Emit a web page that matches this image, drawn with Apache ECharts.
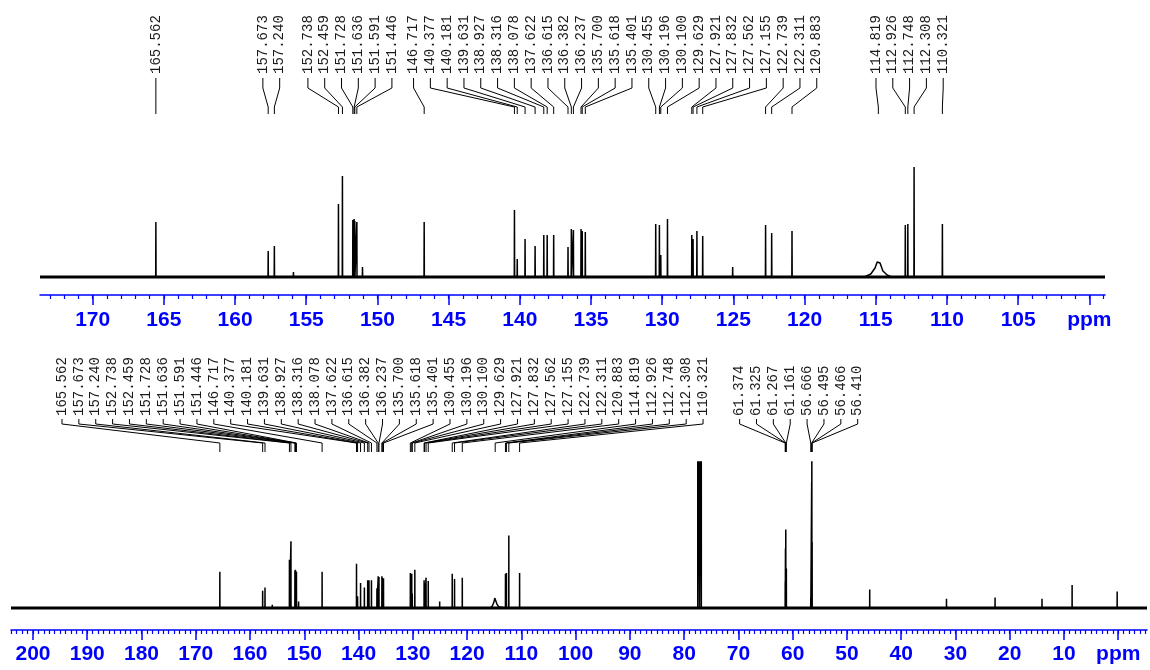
<!DOCTYPE html>
<html><head><meta charset="utf-8">
<script src="https://cdn.jsdelivr.net/npm/echarts@6/dist/echarts.min.js"></script>
<style>html,body{margin:0;padding:0;background:#fff}#c{width:1150px;height:670px}</style>
</head><body><div id="c"></div>
<script>
// ---- data (ppm, intensity in arbitrary units) ----
const peakPpm = [165.562,157.673,157.240,152.738,152.459,151.728,151.636,151.591,151.446,146.717,
  140.377,140.181,139.631,138.927,138.316,138.078,137.622,136.615,136.382,136.237,135.700,135.618,135.401,
  130.455,130.196,130.100,129.629,127.921,127.832,127.562,127.155,122.739,122.311,120.883,
  112.926,112.748,112.308,110.321,
  61.374,61.325,61.267,61.161,56.666,56.495,56.466,56.410,
  77.480,77.160,76.840,45.80,31.65,22.70,14.05,8.50,0.20,155.90,151.05,125.05];
const peakInt = [55,26,31,73,101,57,58,56,55,55,
  67,18,38,31,42,42,42,30,48,47,48,46,45,
  53,52,22,58,42,38,46,41,52,44,46,
  52,53,110,53,
  40,90,119,60,15,191,320,100,
  400,400,400,28,14,16,14,35,25,5,10,10];
// broad signal around 114.8 ppm read as points
const broadPpm = [115.80,115.35,115.05,114.90,114.82,114.70,114.50,114.20,113.90];
const broadInt = [0,3,9,15,17,14,6,2,0];

const topLabels = ['165.562','157.673','157.240','152.738','152.459','151.728','151.636','151.591','151.446',
  '146.717','140.377','140.181','139.631','138.927','138.316','138.078','137.622','136.615','136.382',
  '136.237','135.700','135.618','135.401','130.455','130.196','130.100','129.629','127.921','127.832',
  '127.562','127.155','122.739','122.311','120.883','114.819','112.926','112.748','112.308','110.321'];
const bottomLabels = topLabels.concat(['61.374','61.325','61.267','61.161','56.666','56.495','56.466','56.410']);

const topRange = [98.9, 173.7];
const bottomRange = [-5.3, 204.05];
const topMajor = [100,105,110,115,120,125,130,135,140,145,150,155,160,165,170];
const bottomMajor = [0,10,20,30,40,50,60,70,80,90,100,110,120,130,140,150,160,170,180,190,200];
const topMinor = []; for (let v = 99; v <= 173; v++) topMinor.push(v);
const bottomMinor = []; for (let v = -5; v <= 204; v++) bottomMinor.push(v);

// ---- build spectrum line data ----
function spectrum(lo, hi) {
  const pts = [];
  peakPpm.forEach((p, i) => {
    if (p < lo || p > hi) return;
    pts.push([p + 0.012, 0], [p, peakInt[i]], [p - 0.012, 0]);
  });
  broadPpm.forEach((p, i) => { if (p >= lo && p <= hi) pts.push([p, broadInt[i]]); });
  pts.push([hi, 0], [lo, 0]);
  pts.sort((a, b) => b[0] - a[0]);
  return pts;
}

const BLUE = '#0000ff';
function axisPair(grid, range, minor, major, unitAt, margin) {
  return [{
    type: 'value', gridIndex: grid, inverse: true, min: range[0], max: range[1], position: 'bottom',
    axisLine: { show: true, onZero: false, lineStyle: { color: BLUE, width: 1.5 } },
    axisTick: { show: true, customValues: minor, length: 4, lineStyle: { color: BLUE, width: 1.2 } },
    axisLabel: { show: false }, splitLine: { show: false }
  }, {
    type: 'value', gridIndex: grid, inverse: true, min: range[0], max: range[1], position: 'bottom',
    axisLine: { show: false, onZero: false },
    axisTick: { show: true, customValues: major, length: 10, lineStyle: { color: BLUE, width: 1.5 } },
    axisLabel: { show: true, customValues: major, margin: margin, color: BLUE, fontWeight: 'bold',
      fontSize: 21, fontFamily: '"Liberation Sans", Arial, sans-serif',
      formatter: v => (v === unitAt ? 'ppm' : String(v)) },
    splitLine: { show: false }
  }];
}

function labelSeries(xAxisIndex, yAxisIndex, labels, geo) {
  return {
    type: 'custom', xAxisIndex, yAxisIndex, data: [[0, 0]], silent: true, clip: false, z: 5,
    renderItem: function (params, api) {
      if (params.dataIndex !== 0) return null;
      const xs = labels.map(s => api.coord([parseFloat(s), 0])[0]);
      // cluster layout
      let cl = xs.map((x, i) => ({ s: i, n: 1, sum: x }));
      let changed = true;
      while (changed) {
        changed = false;
        for (let k = 0; k < cl.length - 1; k++) {
          const a = cl[k], b = cl[k + 1];
          const aR = a.sum / a.n + (a.n - 1) * geo.gap / 2;
          const bL = b.sum / b.n - (b.n - 1) * geo.gap / 2;
          if (bL - aR < geo.gap) {
            cl.splice(k, 2, { s: a.s, n: a.n + b.n, sum: a.sum + b.sum });
            changed = true; break;
          }
        }
      }
      const lx = [];
      cl.forEach(c => {
        const c0 = c.sum / c.n - (c.n - 1) * geo.gap / 2;
        for (let j = 0; j < c.n; j++) lx.push(c0 + j * geo.gap);
      });
      const children = [];
      labels.forEach((s, i) => {
        children.push({
          type: 'text', x: lx[i], y: geo.textY, rotation: Math.PI / 2, silent: true,
          style: { text: s, fill: '#1a1a1a', font: geo.font, textAlign: 'left', textVerticalAlign: 'middle',
            align: 'left', verticalAlign: 'middle' }
        });
        children.push({
          type: 'polyline', silent: true,
          shape: { points: [[lx[i], geo.y0], [lx[i], geo.y1], [xs[i], geo.y2], [xs[i], geo.y3]] },
          style: { stroke: '#000', lineWidth: 1, fill: null }
        });
      });
      return { type: 'group', children };
    }
  };
}

const chart = echarts.init(document.getElementById('c'), null, { renderer: 'canvas' });
const option = {
  backgroundColor: '#fff',
  animation: false,
  grid: [
    { left: 40, right: 45, top: 140, bottom: 375 },
    { left: 11, right: 3, top: 462, bottom: 40 }
  ],
  xAxis: [].concat(axisPair(0, topRange, topMinor, topMajor, 100, 15),
                   axisPair(1, bottomRange, bottomMinor, bottomMajor, 0, 14)),
  yAxis: [
    { type: 'value', gridIndex: 0, min: -18, max: 137, show: false },
    { type: 'value', gridIndex: 1, min: -33.3, max: 221.2, show: false }
  ],
  series: [
    { type: 'line', xAxisIndex: 0, yAxisIndex: 0, data: [[topRange[1], 0], [topRange[0], 0]], symbol: 'none',
      lineStyle: { color: '#000', width: 3 }, silent: true },
    { type: 'line', xAxisIndex: 0, yAxisIndex: 0, data: spectrum(topRange[0], topRange[1]), symbol: 'none',
      lineStyle: { color: '#000', width: 1.5 }, silent: true },
    { type: 'line', xAxisIndex: 2, yAxisIndex: 1, data: [[bottomRange[1], 0], [bottomRange[0], 0]], symbol: 'none',
      lineStyle: { color: '#000', width: 3 }, silent: true },
    { type: 'line', xAxisIndex: 2, yAxisIndex: 1, data: spectrum(bottomRange[0], bottomRange[1]), symbol: 'none',
      lineStyle: { color: '#000', width: 1.5 }, silent: true },
    labelSeries(0, 0, topLabels, { gap: 16.8, textY: 74, y0: 78, y1: 88, y2: 107, y3: 114,
      font: '14px "Liberation Mono", "DejaVu Sans Mono", monospace' }),
    labelSeries(2, 1, bottomLabels, { gap: 16.87, textY: 416, y0: 419, y1: 424, y2: 443, y3: 452,
      font: '14px "Liberation Mono", "DejaVu Sans Mono", monospace' })
  ]
};
chart.setOption(option);
</script>
</body></html>
